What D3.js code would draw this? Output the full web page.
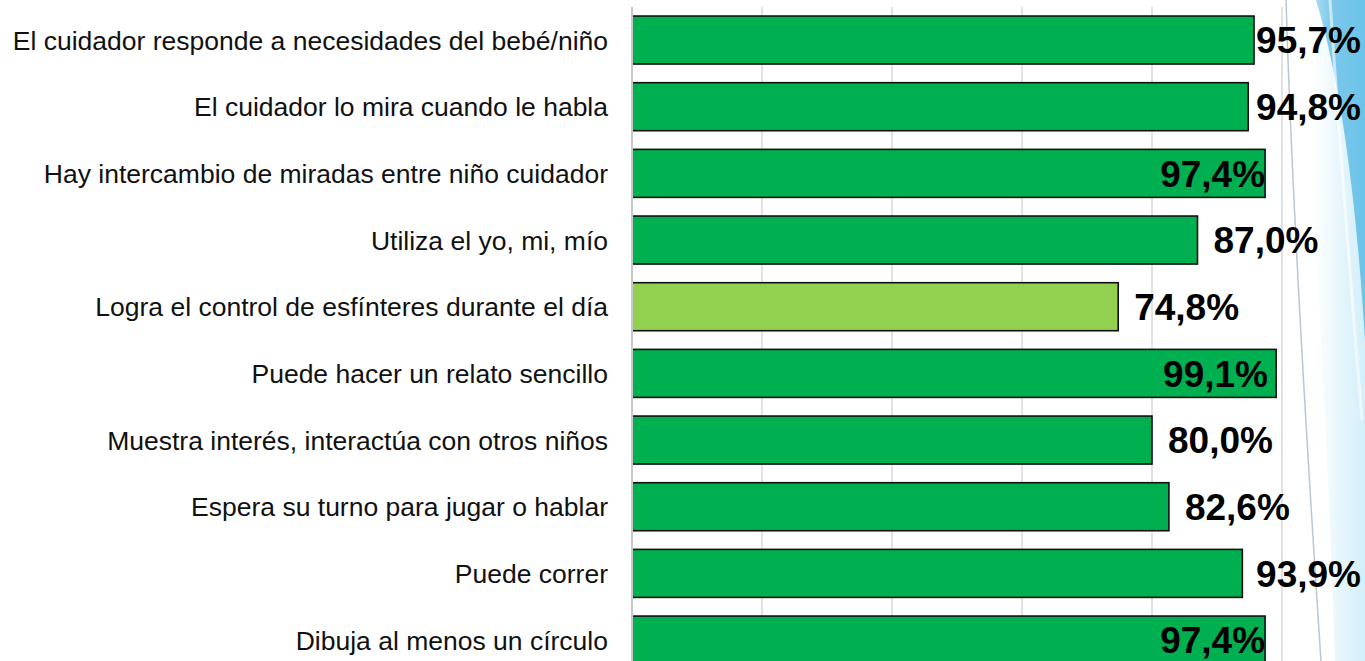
<!DOCTYPE html>
<html><head><meta charset="utf-8">
<script src="https://cdn.jsdelivr.net/npm/d3@7"></script>
<style>html,body{margin:0;padding:0;background:#fff;overflow:hidden}</style>
</head><body>
<svg id="c" width="1365" height="661"></svg>
<script>
const categories = [
  "El cuidador responde a necesidades del bebé/niño",
  "El cuidador lo mira cuando le habla",
  "Hay intercambio de miradas entre niño cuidador",
  "Utiliza el yo, mi, mío",
  "Logra el control de esfínteres durante el día",
  "Puede hacer un relato sencillo",
  "Muestra interés, interactúa con otros niños",
  "Espera su turno para jugar o hablar",
  "Puede correr",
  "Dibuja al menos un círculo"
];
const values = [95.7, 94.8, 97.4, 87.0, 74.8, 99.1, 80.0, 82.6, 93.9, 97.4];
const highlight = [false, false, false, false, true, false, false, false, false, false];
const xTicks = [0, 20, 40, 60, 80, 100];

const svg = d3.select("#c");
const W = 1365, H = 661;

// decorative slide background on the right
const defs = svg.append("defs");
const g1 = defs.append("linearGradient").attr("id","blueG").attr("x1","0").attr("x2","1").attr("y1","0").attr("y2","0");
g1.append("stop").attr("offset","0").attr("stop-color","#a9dcf2");
g1.append("stop").attr("offset","0.3").attr("stop-color","#7cc8ea");
g1.append("stop").attr("offset","1").attr("stop-color","#6cc3ea");
const g2 = defs.append("linearGradient").attr("id","paleG").attr("x1","0").attr("x2","1").attr("y1","0").attr("y2","0");
g2.append("stop").attr("offset","0").attr("stop-color","#ffffff").attr("stop-opacity",0);
g2.append("stop").attr("offset","0.6").attr("stop-color","#e6f6fc");
g2.append("stop").attr("offset","1").attr("stop-color","#d3eff9");

const deco = svg.append("g");
deco.append("path").attr("d","M1300,0 L1365,0 L1365,661 L1335,661 C1330,500 1320,300 1300,0 Z").attr("fill","url(#paleG)");
deco.append("path").attr("d","M1316,0 L1365,0 L1365,340 C1358,230 1346,100 1316,0 Z").attr("fill","url(#blueG)");
deco.append("path").attr("d","M1286,0 C1292,200 1305,420 1321,661").attr("fill","none").attr("stroke","#b8c8d2").attr("stroke-width",1.5);
deco.append("path").attr("d","M1330,0 C1340,150 1352,300 1362,420").attr("fill","none").attr("stroke","#ffffff").attr("stroke-width",3).attr("opacity",0.6);

const x = d3.scaleLinear().domain([0,100]).range([632,1282]);
const y = d3.scaleBand().domain(categories).range([6.7, 673.4]).paddingInner(0.28).paddingOuter(0.14);

// gridlines
svg.append("g").selectAll("line").data(xTicks.slice(1)).join("line")
  .attr("x1",d=>x(d)).attr("x2",d=>x(d)).attr("y1",7).attr("y2",H)
  .attr("stroke","#d9d9d9").attr("stroke-width",1.5);

// bars
svg.append("g").selectAll("rect").data(values).join("rect")
  .attr("x",x(0)).attr("y",(d,i)=>y(categories[i]))
  .attr("width",d=>x(d)-x(0)).attr("height",y.bandwidth())
  .attr("fill",(d,i)=>highlight[i] ? "#92d050" : "#00b050")
  .attr("stroke","#111").attr("stroke-width",1.6);

// axis line
svg.append("line").attr("x1",x(0)).attr("x2",x(0)).attr("y1",7).attr("y2",H)
  .attr("stroke","#c8c8c8").attr("stroke-width",2);

// category labels
svg.append("g").selectAll("text").data(categories).join("text")
  .attr("x",608).attr("y",d=>y(d)+y.bandwidth()/2).attr("dy","0.36em")
  .attr("text-anchor","end")
  .style("font-family","'Liberation Sans', Arial, sans-serif").style("font-size","26.5px").style("fill","#111")
  .text(d=>d);

// value labels
const fmt = v => v.toFixed(1).replace(".", ",") + "%";
const lbl = svg.append("g").selectAll("text").data(values).join("text")
  .attr("y",(d,i)=>y(categories[i])+y.bandwidth()/2).attr("dy","0.36em")
  .style("font-family","'Liberation Sans', Arial, sans-serif").style("font-size","37px").style("font-weight","bold").style("fill","#000")
  .text(d=>fmt(d));
const rightLimit = 1361;
lbl.each(function(d){
  const w = this.getComputedTextLength();
  const end = x(d);
  let sx = end + 16;
  const over = sx + w - rightLimit;
  if (over <= 0) { d3.select(this).attr("x", sx); }
  else if (over < 22) { d3.select(this).attr("x", rightLimit - w); }
  else { d3.select(this).attr("x", Math.min(end, 1268) - w); }
});
</script>
</body></html>
